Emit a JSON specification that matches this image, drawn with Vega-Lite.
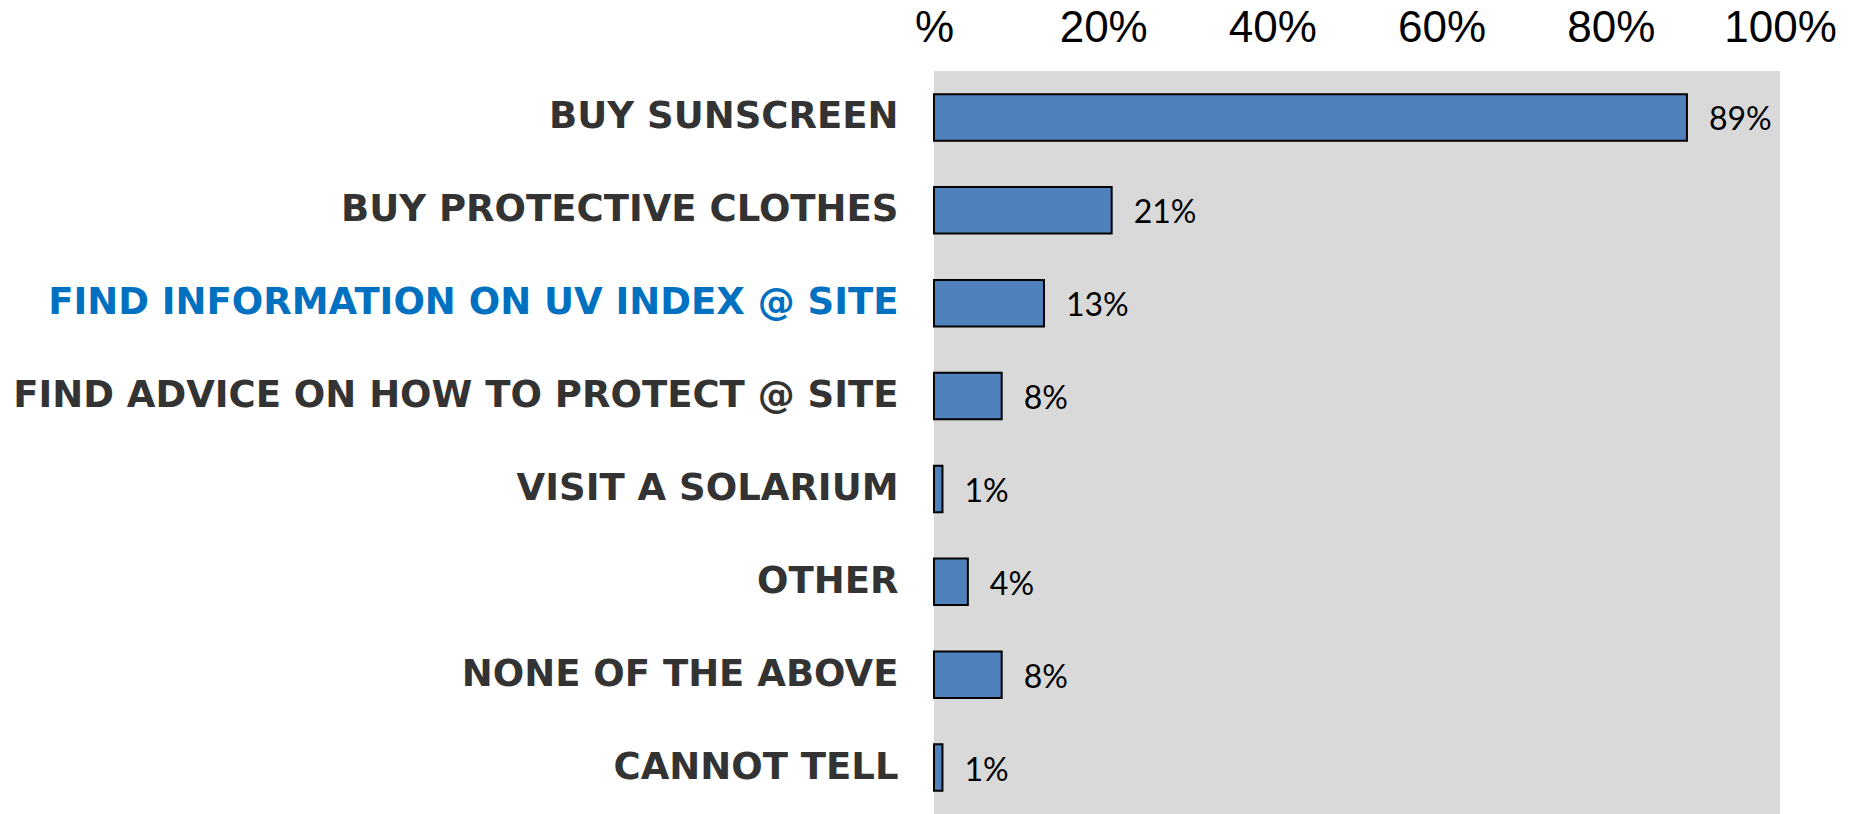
{
  "$schema": "https://vega.github.io/schema/vega-lite/v6.json",
  "autosize": "none",
  "padding": {"left": 934, "top": 71, "right": 71, "bottom": 0},
  "width": 846,
  "height": 743,
  "background": "white",
  "view": {"fill": "#D9D9D9", "stroke": null},
  "data": {
    "values": [
      {"item": "BUY SUNSCREEN", "share": 0.89},
      {"item": "BUY PROTECTIVE CLOTHES", "share": 0.21},
      {"item": "FIND INFORMATION ON UV INDEX @ SITE", "share": 0.13},
      {"item": "FIND ADVICE ON HOW TO PROTECT @ SITE", "share": 0.08},
      {"item": "VISIT A SOLARIUM", "share": 0.01},
      {"item": "OTHER", "share": 0.04},
      {"item": "NONE OF THE ABOVE", "share": 0.08},
      {"item": "CANNOT TELL", "share": 0.01}
    ]
  },
  "encoding": {
    "y": {
      "field": "item",
      "type": "nominal",
      "sort": null,
      "scale": {"paddingInner": 0.5, "paddingOuter": 0.25},
      "axis": {
        "title": null,
        "domain": false,
        "ticks": false,
        "tickSize": 0,
        "labelPadding": 36,
        "labelFont": "DejaVu Sans",
        "labelFontWeight": "bold",
        "labelFontSize": 37,
        "labelLimit": 1200,
        "labelColor": {
          "condition": {"test": "datum.value == 'FIND INFORMATION ON UV INDEX @ SITE'", "value": "#0070C0"},
          "value": "#333333"
        }
      }
    },
    "x": {
      "field": "share",
      "type": "quantitative",
      "scale": {"domain": [0, 1], "nice": false},
      "axis": {
        "orient": "top",
        "title": null,
        "domain": false,
        "ticks": false,
        "tickSize": 0,
        "grid": false,
        "values": [0, 0.2, 0.4, 0.6, 0.8, 1],
        "labelExpr": "datum.value == 0 ? '%' : format(datum.value, '.0%')",
        "labelFont": "Liberation Sans Narrow, Liberation Sans",
        "labelFontSize": 44,
        "labelColor": "#000000",
        "labelBaseline": "alphabetic",
        "labelPadding": 30,
        "labelFlush": false,
        "labelOverlap": false
      }
    }
  },
  "layer": [
    {
      "mark": {"type": "bar", "fill": "#4F81BD", "stroke": "#000000", "strokeWidth": 2}
    },
    {
      "mark": {"type": "text", "align": "left", "baseline": "middle", "dx": 22, "dy": 3, "font": "Lato", "fontSize": 32, "color": "#000000"},
      "encoding": {
        "text": {"field": "share", "type": "quantitative", "format": ".0%"}
      }
    }
  ]
}
